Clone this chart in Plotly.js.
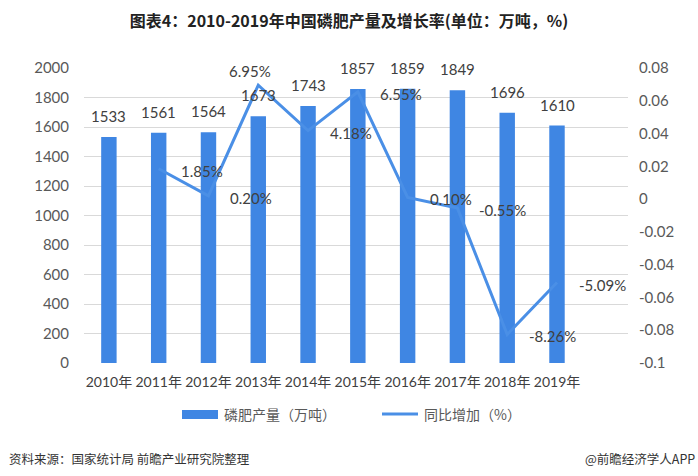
<!DOCTYPE html>
<html>
<head>
<meta charset="utf-8">
<script src="https://cdn.plot.ly/plotly-3.0.1.min.js"></script>
<style>
  body { margin: 0; background: #fff; }
  #chart { width: 698px; height: 476px; }
</style>
</head>
<body>
<div id="chart"></div>
<script>
// 数据
const years = ['2010年', '2011年', '2012年', '2013年', '2014年', '2015年', '2016年', '2017年', '2018年', '2019年'];
const output = [1533, 1561, 1564, 1673, 1743, 1857, 1859, 1849, 1696, 1610];
const growthYears = years.slice(1);
const growth = [0.0185, 0.0020, 0.0695, 0.0418, 0.0655, 0.0010, -0.0055, -0.0826, -0.0509];
const growthLabels = ['1.85%', '0.20%', '6.95%', '4.18%', '6.55%', '0.10%', '-0.55%', '-8.26%', '-5.09%'];
const rightTicks = [0.08, 0.06, 0.04, 0.02, 0, -0.02, -0.04, -0.06, -0.08, -0.1];
const rightTickText = ['0.08', '0.06', '0.04', '0.02', '0', '-0.02', '-0.04', '-0.06', '-0.08', '-0.1'];

const fontCN = '"Noto Sans CJK SC", sans-serif';
const fontNum = 'Lato, "Noto Sans CJK SC", sans-serif';

const barColor = '#3f86e3';
const lineColor = '#4a8fe6';

const data = [
    {
        type: 'bar',
        x: years,
        y: output,
        name: '磷肥产量（万吨）',
        marker: {color: barColor},
        hoverinfo: 'x+y'
    },
    {
        type: 'scatter',
        mode: 'lines',
        x: growthYears,
        y: growth,
        yaxis: 'y2',
        name: '同比增加（%）',
        line: {color: lineColor, width: 3},
        cliponaxis: false
    }
];

// 柱子上方的数值标签
const barAnnotations = years.map((yr, i) => ({
    xref: 'x', yref: 'y', x: yr, y: output[i],
    text: String(output[i]), showarrow: false,
    xanchor: 'center', yanchor: 'bottom', yshift: 10,
    font: {family: fontNum, size: 15, color: '#404040'}
}));

// 折线数据标签：大多在点的右侧，2013 年在点上方
const growthAnnotations = growthYears.map((yr, i) => {
    const above = i === 2;
    return {
        xref: 'x', yref: 'y2', x: yr, y: growth[i],
        text: growthLabels[i], showarrow: false,
        xanchor: above ? 'center' : 'left',
        yanchor: 'middle',
        xshift: above ? -8 : 20,
        yshift: above ? 14 : -2,
        font: {family: fontNum, size: 15, color: '#404040'}
    };
});

// 手动图例（paper 坐标）
const px = v => (v - 84) / 544;
const py = v => (363 - v) / 295;

const layout = {
    width: 698,
    height: 476,
    margin: {l: 84, r: 70, t: 68, b: 113},
    paper_bgcolor: '#fff',
    plot_bgcolor: '#fff',
    showlegend: false,
    bargap: 0.69,
    title: {
        text: '<b>图表4：2010-2019年中国磷肥产量及增长率(单位：万吨，%)</b>',
        font: {family: fontCN, size: 16, color: '#222'},
        x: 0.5, xanchor: 'center',
        y: 0.955, yanchor: 'middle'
    },
    xaxis: {
        type: 'category',
        tickfont: {family: fontNum, size: 14, color: '#404040'},
        showgrid: false,
        showline: false,
        ticks: '',
        ticklabelstandoff: 9
    },
    yaxis: {
        range: [0, 2000],
        dtick: 200,
        tickfont: {family: fontNum, size: 15, color: '#595959'},
        gridcolor: '#d9d9d9',
        gridwidth: 1,
        zeroline: false,
        ticklabelstandoff: 14
    },
    yaxis2: {
        overlaying: 'y',
        side: 'right',
        range: [-0.1, 0.08],
        tickvals: rightTicks,
        ticktext: rightTickText,
        tickfont: {family: fontNum, size: 15, color: '#595959'},
        showgrid: false,
        zeroline: false,
        ticklabelstandoff: 10
    },
    shapes: [
        {type: 'rect', xref: 'paper', yref: 'paper', x0: px(182), x1: px(218), y0: py(419), y1: py(410),
         fillcolor: barColor, line: {width: 0}},
        {type: 'line', xref: 'paper', yref: 'paper', x0: px(382), x1: px(418), y0: py(414), y1: py(414),
         line: {color: lineColor, width: 3}}
    ],
    annotations: barAnnotations.concat(growthAnnotations, [
        {xref: 'paper', yref: 'paper', x: px(222), y: py(414), xanchor: 'left', yanchor: 'middle',
         text: '磷肥产量（万吨）', showarrow: false, font: {family: fontCN, size: 14, color: '#595959'}},
        {xref: 'paper', yref: 'paper', x: px(422), y: py(414), xanchor: 'left', yanchor: 'middle',
         text: '同比增加（%）', showarrow: false, font: {family: fontCN, size: 14, color: '#595959'}},
        {xref: 'paper', yref: 'paper', x: px(7), y: py(458), xanchor: 'left', yanchor: 'middle',
         text: '资料来源：国家统计局 前瞻产业研究院整理', showarrow: false,
         font: {family: fontCN, size: 12.5, color: '#333'}},
        {xref: 'paper', yref: 'paper', x: px(697), y: py(458), xanchor: 'right', yanchor: 'middle',
         text: '@前瞻经济学人APP', showarrow: false,
         font: {family: fontCN, size: 12.5, color: '#333'}}
    ])
};

Plotly.newPlot('chart', data, layout, {displayModeBar: false});
</script>
</body>
</html>
